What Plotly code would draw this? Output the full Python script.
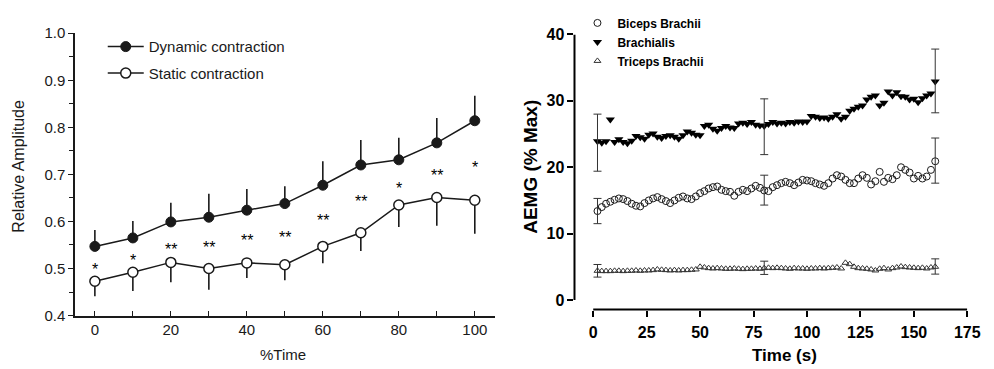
import plotly.graph_objects as go

# ---------------- Left panel data ----------------
time_pct = [0, 10, 20, 30, 40, 50, 60, 70, 80, 90, 100]
dyn_mean = [0.547, 0.565, 0.599, 0.609, 0.624, 0.638, 0.677, 0.720, 0.731, 0.767, 0.814]
dyn_sd = [0.035, 0.036, 0.041, 0.050, 0.045, 0.037, 0.051, 0.053, 0.047, 0.053, 0.053]
sta_mean = [0.473, 0.492, 0.513, 0.500, 0.512, 0.508, 0.547, 0.576, 0.635, 0.651, 0.645]
sta_sd = [0.032, 0.040, 0.042, 0.045, 0.032, 0.033, 0.036, 0.039, 0.047, 0.060, 0.071]
sig_labels = ["*", "*", "**", "**", "**", "**", "**", "**", "*", "**", "*"]
sig_y = [0.507, 0.526, 0.549, 0.553, 0.568, 0.574, 0.611, 0.650, 0.679, 0.706, 0.723]
left_xtick_vals = [0, 10, 20, 30, 40, 50, 60, 70, 80, 90, 100]
left_xtick_text = ["0", "", "20", "", "40", "", "60", "", "80", "", "100"]

# ---------------- Right panel data ----------------
time_s = list(range(2, 161, 2))
brachialis = [23.9, 23.7, 23.9, 27.2, 23.8, 24.2, 23.8, 23.6, 24.0, 24.7,
              24.5, 24.3, 24.9, 25.1, 24.6, 24.4, 24.7, 24.8, 24.6, 24.3,
              24.8, 25.4, 25.2, 24.9, 24.8, 26.2, 26.4, 25.8, 25.5, 25.9,
              26.2, 26.0, 25.9, 26.6, 26.7, 26.5, 26.8, 26.4, 26.3, 26.2,
              26.5, 26.8, 26.6, 26.7, 26.6, 26.8, 26.7, 26.9, 26.8, 26.9,
              27.7, 27.6, 27.4, 27.5, 27.3, 27.6, 28.0, 27.3, 27.6, 28.5,
              28.8, 29.1, 29.3, 30.2, 30.6, 30.8, 29.3, 29.7, 31.4, 30.8,
              31.3, 30.7, 30.6, 30.2, 30.3, 29.8, 30.4, 30.8, 31.1, 32.9]
biceps = [13.4, 14.0, 14.5, 14.8, 15.1, 15.3, 15.2, 14.9, 14.5, 14.2,
          14.1, 14.6, 15.0, 15.3, 15.5, 15.2, 14.9, 14.6, 15.0, 15.4,
          15.6, 15.3, 15.2, 15.6, 16.1, 16.4, 16.8, 17.0, 17.1, 16.6,
          16.4, 16.3, 15.7, 16.3, 16.6, 16.4, 16.8, 17.2, 16.9, 16.5,
          16.4, 17.0, 17.3, 17.6, 17.8, 17.6, 17.3, 17.7, 18.1, 18.0,
          17.9, 17.6, 17.4, 17.2, 17.6, 18.3, 18.8, 18.6, 18.1, 17.6,
          17.6, 18.3, 18.8, 18.4, 17.4, 17.9, 19.3, 17.8, 18.4, 18.2,
          18.8, 20.0, 19.6, 19.2, 18.3, 18.7, 18.3, 18.6, 19.6, 20.9]
triceps = [4.40, 4.35, 4.35, 4.35, 4.40, 4.40, 4.35, 4.40, 4.40, 4.45,
           4.40, 4.45, 4.45, 4.50, 4.60, 4.55, 4.50, 4.45, 4.50, 4.45,
           4.50, 4.50, 4.55, 4.60, 5.00, 4.90, 4.80, 4.75, 4.80, 4.75,
           4.70, 4.70, 4.75, 4.70, 4.65, 4.70, 4.70, 4.75, 4.70, 4.80,
           4.85, 4.80, 4.85, 4.80, 4.75, 4.70, 4.80, 4.75, 4.75, 4.70,
           4.75, 4.75, 4.80, 4.75, 4.80, 4.85, 4.90, 4.75, 5.60, 5.40,
           5.00, 4.80, 4.75, 4.70, 4.60, 4.45, 4.70, 4.80, 4.60, 4.80,
           4.90, 5.05, 4.95, 4.90, 4.85, 4.80, 4.85, 4.75, 4.90, 5.00]
err_t = [2, 80, 160]
brach_err_mean = [23.7, 26.1, 33.0]
brach_err_sd = [4.3, 4.2, 4.8]
bic_err_mean = [13.4, 16.55, 21.0]
bic_err_sd = [1.9, 2.25, 3.4]
tri_err_mean = [4.4, 4.85, 5.05]
tri_err_sd = [0.95, 1.0, 1.15]
right_xticks = [0, 25, 50, 75, 100, 125, 150, 175]
right_yticks = [0, 10, 20, 30, 40]

W, H = 994, 369
LFONT = "Liberation Sans, Arial, Helvetica, sans-serif"
INK = "#1a1a1a"

fig = go.Figure()

# ---- Left panel traces ----
fig.add_trace(go.Scatter(
    x=time_pct, y=dyn_mean, mode="lines+markers", name="Dynamic contraction",
    line=dict(color=INK, width=1.5),
    marker=dict(symbol="circle", size=10, color=INK, line=dict(color=INK, width=1)),
    error_y=dict(type="data", symmetric=False, array=dyn_sd, arrayminus=[0] * len(dyn_sd),
                 width=0, thickness=1.6, color=INK),
    xaxis="x", yaxis="y", legend="legend", legendgroup="a",
))
fig.add_trace(go.Scatter(
    x=time_pct, y=sta_mean, mode="lines+markers", name="Static contraction",
    line=dict(color=INK, width=1.5),
    marker=dict(symbol="circle", size=10, color="white", line=dict(color=INK, width=1.5)),
    error_y=dict(type="data", symmetric=False, array=[0] * len(sta_sd), arrayminus=sta_sd,
                 width=0, thickness=1.6, color=INK),
    xaxis="x", yaxis="y", legend="legend", legendgroup="b",
))

# ---- Right panel traces ----
fig.add_trace(go.Scatter(
    x=time_s, y=biceps, mode="markers", name="Biceps Brachii",
    marker=dict(symbol="circle-open", size=7, color=INK, line=dict(width=1)),
    xaxis="x2", yaxis="y2", legend="legend2",
))
fig.add_trace(go.Scatter(
    x=time_s, y=brachialis, mode="markers", name="Brachialis",
    marker=dict(symbol="triangle-down", size=8, color="black"),
    xaxis="x2", yaxis="y2", legend="legend2",
))
fig.add_trace(go.Scatter(
    x=time_s, y=triceps, mode="markers", name="Triceps Brachii",
    marker=dict(symbol="triangle-up-open", size=6, color="#333", line=dict(width=1)),
    xaxis="x2", yaxis="y2", legend="legend2",
))
for m, s in [(brach_err_mean, brach_err_sd), (bic_err_mean, bic_err_sd), (tri_err_mean, tri_err_sd)]:
    fig.add_trace(go.Scatter(
        x=err_t, y=m, mode="markers", marker=dict(size=1, opacity=0),
        error_y=dict(type="data", array=s, width=4, thickness=1, color="#333"),
        xaxis="x2", yaxis="y2", showlegend=False, hoverinfo="skip",
    ))

# significance asterisks
annotations = []
for xv, yv, lab in zip(time_pct, sig_y, sig_labels):
    annotations.append(dict(x=xv, y=yv, xref="x", yref="y", text=lab, showarrow=False,
                            xanchor="center", yanchor="middle",
                            font=dict(family=LFONT, size=16, color="black"), yshift=-4))

# axis titles
annotations += [
    dict(x=11 / W, y=1 - 156 / H, xref="paper", yref="paper", text="Relative Amplitude",
         xanchor="center", yanchor="middle",
         textangle=-90, showarrow=False, font=dict(family=LFONT, size=16, color=INK)),
    dict(x=279 / W, y=1 - 354 / H, xref="paper", yref="paper", text="%Time",
         xanchor="center", yanchor="middle",
         showarrow=False, font=dict(family=LFONT, size=15, color=INK)),
    dict(x=530 / W, y=1 - 157 / H, xref="paper", yref="paper", text="<b>AEMG (% Max)</b>",
         xanchor="center", yanchor="middle",
         textangle=-90, showarrow=False, font=dict(family=LFONT, size=19, color="black")),
    dict(x=787 / W, y=1 - 355 / H, xref="paper", yref="paper", text="<b>Time (s)</b>",
         xanchor="center", yanchor="middle",
         showarrow=False, font=dict(family=LFONT, size=17, color="black")),
]

shapes = [
    dict(type="line", xref="x2", yref="y2 domain", x0=0, x1=175, y0=0, y1=0,
         line=dict(color="black", width=2)),
    dict(type="line", xref="x2 domain", yref="y2", x0=0, x1=0, y0=0, y1=40,
         line=dict(color="black", width=2)),
]

fig.update_layout(
    width=W, height=H,
    margin=dict(l=0, r=0, t=0, b=0),
    paper_bgcolor="white", plot_bgcolor="white",
    showlegend=True,
    xaxis=dict(domain=[68 / W, 493 / W], range=[-5.2, 105.2], anchor="y",
               tickvals=left_xtick_vals, ticktext=left_xtick_text,
               ticks="inside", ticklen=5, tickwidth=1.2, tickcolor=INK,
               showline=True, linecolor=INK, linewidth=1.5, showgrid=False, zeroline=False,
               tickfont=dict(family=LFONT, size=15, color=INK)),
    yaxis=dict(domain=[1 - 313 / H, 1 - 17 / H], range=[0.4, 1.0], anchor="x",
               dtick=0.1, tickformat=".1f",
               ticks="outside", ticklen=5, tickwidth=1.2, tickcolor=INK,
               minor=dict(dtick=0.05, ticks="outside", ticklen=4, tickwidth=1.2, tickcolor=INK, showgrid=False),
               showline=True, linecolor=INK, linewidth=1.5, showgrid=False, zeroline=False,
               tickfont=dict(family=LFONT, size=15, color=INK)),
    xaxis2=dict(domain=[574 / W, 972 / W], range=[-8.76, 175], anchor="y2",
                tickvals=right_xticks, ticks="outside", ticklen=6, tickwidth=2, tickcolor="black",
                ticklabelstandoff=2,
                showline=False, showgrid=False, zeroline=False,
                tickfont=dict(family=LFONT, size=16, color="black", weight="bold")),
    yaxis2=dict(domain=[1 - 306.7 / H, 1 - 18.3 / H], range=[-1.44, 40], anchor="x2",
                tickvals=right_yticks, ticks="outside", ticklen=6, tickwidth=2, tickcolor="black",
                showline=False, showgrid=False, zeroline=False,
                tickfont=dict(family=LFONT, size=16, color="black", weight="bold")),
    legend=dict(x=96 / W, y=1 - 14 / H, xanchor="left", yanchor="top",
                bgcolor="rgba(0,0,0,0)", borderwidth=0, traceorder="grouped",
                tracegroupgap=4, itemwidth=36,
                font=dict(family=LFONT, size=15, color=INK)),
    legend2=dict(x=577 / W, y=1 + 9 / H, xanchor="left", yanchor="top",
                 bgcolor="rgba(0,0,0,0)", borderwidth=0,
                 font=dict(family=LFONT, size=12, color="black", weight="bold")),
    annotations=annotations,
    shapes=shapes,
)

fig.write_html("out.html")
